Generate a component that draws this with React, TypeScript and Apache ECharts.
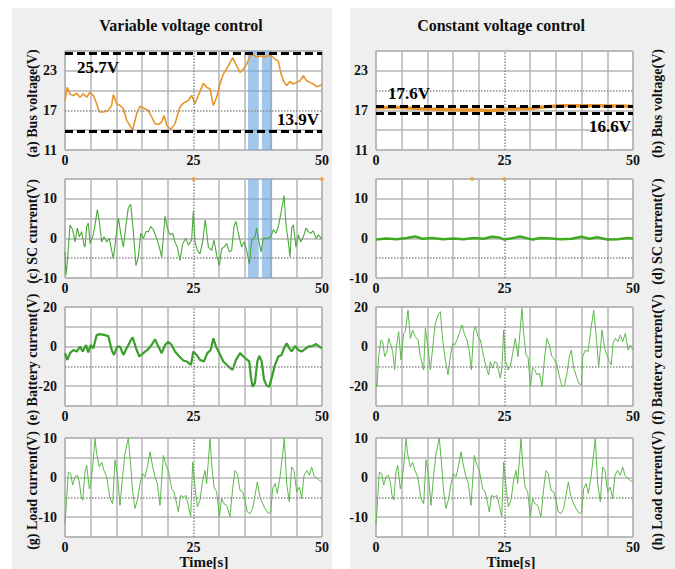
import React, { useEffect, useRef } from "react";
import * as echarts from "echarts";

const xLabelTicks = [0, 25, 50];
const busTicks = [11, 17, 23];
const scTicks = [-10, 0, 10];
const batTicks = [-20, 0, 20];
const loadTicks = [-10, 0, 10];

const busVariable: number[][] = [[0,18.5],[0.45,20.5],[0.97,19.5],[1.62,19.25],[2.27,19.6],[2.92,19],[3.57,19.5],[4.22,19],[4.86,19.75],[5.51,19.25],[6.16,18],[6.68,16.75],[7.46,16.75],[8.43,17],[9.08,17.75],[9.4,19.4],[10.05,18],[10.7,17.75],[11.35,17.25],[12.0,15.5],[13.16,14],[13.94,16.5],[14.59,17.6],[15.56,17.25],[16.21,17],[16.86,16],[17.51,15],[18.16,14.85],[18.81,15.25],[19.26,16.25],[19.78,14.75],[20.56,14.1],[21.4,15],[22.37,17.5],[23.02,18.1],[23.99,18.5],[24.64,19.25],[25.29,18],[25.94,19.25],[26.91,21.1],[27.56,20.5],[28.21,20.25],[28.86,17.75],[29.51,19],[30.16,21],[30.8,22.5],[31.78,23.75],[32.62,25],[33.4,23.75],[34.05,22.75],[34.7,23.25],[35.34,24],[35.99,25.25],[36.64,25.4],[37.29,25.1],[37.94,25.25],[38.91,25.1],[39.56,25.35],[40.21,25.25],[40.86,24.75],[41.5,24.5],[41.96,22.75],[42.48,21.5],[43.13,20.75],[43.77,21.4],[44.42,21],[45.07,21.25],[45.72,21.5],[46.37,22.25],[47.02,21.5],[47.67,21.25],[48.31,21],[48.96,20.6],[50,20.9]];

const busConstant: number[][] = [[0,17.4],[3,17.45],[5,17.45],[8,17.3],[10,17.2],[13,17.15],[15,17.1],[18,17.05],[20,17.05],[22,16.95],[25,17.15],[28,17.25],[30,17.3],[33,17.55],[36,17.7],[40,17.7],[43,17.7],[45,17.65],[48,17.65],[50,17.6]];

const scVariable: number[][] = [[0,-3.4],[0.19,-9.3],[0.45,-6],[0.97,3.4],[1.49,2.2],[1.95,-0.9],[2.4,2.6],[2.79,0.4],[3.24,1.7],[3.7,-1.7],[3.89,-2.2],[4.22,3],[4.54,3.9],[4.86,-1.3],[5.51,0.9],[5.84,3.4],[6.29,7.3],[6.68,4.3],[7.13,-0.9],[7.59,0.4],[8.11,-0.9],[8.63,0],[9.08,-3],[9.4,-5.2],[9.92,0.4],[10.38,5.2],[10.83,1.3],[11.35,-2.2],[11.87,3.4],[12.32,7.8],[12.78,8.6],[13.29,1.7],[13.81,-6.9],[14.27,-4.7],[14.72,1.3],[15.24,0],[15.76,1.7],[16.21,1.7],[16.67,3],[17.19,2.2],[17.83,0],[18.35,-2.2],[18.81,-4.7],[19.46,5.6],[19.91,2.6],[20.43,0.9],[20.95,1.3],[21.4,-0.9],[21.85,-2.2],[22.37,-5.6],[22.89,-1.3],[23.54,0],[23.99,-1.7],[24.64,-0.4],[24.97,6.9],[25.29,-0.9],[25.75,-3],[26.26,-3.9],[26.78,-0.9],[27.3,4.7],[27.89,-2.2],[28.53,-3],[28.99,-0.4],[29.51,-4.3],[30.03,-6.9],[30.48,-2.6],[30.93,-2.2],[31.45,-1.3],[31.97,-3.4],[32.43,-3],[32.88,3],[33.27,4.3],[33.72,1.3],[34.37,-2.2],[34.82,-0.9],[35.34,-3],[35.86,-6.5],[36.32,-0.4],[36.96,0.4],[37.29,2.6],[37.61,0],[38.13,-3.4],[38.59,0],[39.23,0],[40.01,0.2],[40.53,2.2],[41.05,1.3],[41.5,3],[41.96,6],[42.61,10.8],[43.0,3.4],[43.45,-0.9],[43.77,-4.7],[44.1,2.6],[44.42,3.4],[44.94,-2.2],[45.4,0.9],[45.85,-0.9],[46.37,0.4],[46.89,2.6],[47.34,1.7],[47.8,1.3],[48.31,1.9],[48.83,0],[49.29,0.9],[50,-0.2]];

const scConstant: number[][] = [[0,-0.3],[2,0],[4,-0.2],[6,0.1],[7.6,0.5],[9,-0.1],[11,0.1],[13,-0.2],[15,0],[17,-0.2],[19,0.1],[21,-0.1],[22.5,0.4],[24,0.2],[25,-0.3],[27,0.2],[28,0.5],[29.5,0],[30.5,-0.3],[32,0.1],[34,0],[36,-0.2],[38,-0.1],[40,0.4],[41.5,-0.1],[43,0.3],[45,-0.3],[47,-0.2],[49,0.1],[50,0]];

const batVariable: number[][] = [[0,-3.3],[0.45,-6.7],[0.97,-3.3],[1.62,-1.7],[2.27,-2.5],[2.92,0],[3.44,-2.5],[4.09,0.8],[4.54,-3],[4.99,0.8],[5.51,-0.8],[6.16,5.8],[6.81,6.3],[7.78,5.8],[8.43,5.3],[9.08,-1.7],[9.53,-4.2],[10.18,0],[10.7,0],[11.35,-4.2],[12.0,-0.8],[12.65,2.5],[13.16,4.7],[13.81,-0.8],[14.46,-5],[15.24,-3.3],[16.02,-1.7],[16.86,0.8],[17.51,3.7],[18.16,0],[18.81,-3.3],[19.46,0.8],[20.1,2.5],[20.75,0.8],[21.4,-2.5],[22.24,-5],[23.02,-7],[23.67,-7.5],[24.51,-9.2],[24.97,-2.5],[25.62,-4.2],[26.26,-6.7],[27.04,-7.5],[27.69,-3.3],[28.34,-1.7],[28.86,4.2],[29.38,0],[30.03,-3.3],[30.8,-7.5],[31.45,-9.2],[32.1,-10.8],[32.62,-11.7],[33.27,-6.7],[34.05,-3.3],[34.7,-5],[35.47,-6.7],[35.86,-7.5],[36.19,-15.8],[36.51,-20.3],[36.96,-18.3],[37.42,-7.5],[37.81,-4.7],[38.26,-7.5],[38.72,-16.7],[39.23,-19.7],[39.75,-20.3],[40.21,-15.8],[40.86,-9.2],[41.5,-5],[42.15,-4.2],[42.61,-0.8],[43.13,1.7],[43.64,-0.8],[44.1,-2.5],[44.75,0.3],[45.4,-1.7],[46.04,-2.5],[46.69,-1.3],[47.34,0],[48.18,0.3],[48.83,1.3],[49.48,0],[50,-0.8]];

const batConstant: number[][] = [[0,-18.5],[0.19,-20.2],[0.52,-5],[0.97,3.4],[1.3,2.5],[1.69,-5],[2.14,-2.5],[2.46,4.2],[2.79,1.7],[3.24,-2.5],[3.63,-11.8],[3.96,0],[4.41,7.6],[4.86,-6.7],[5.38,6.7],[5.71,7.6],[6.23,18.5],[6.68,4.2],[7.13,8.4],[7.65,5],[8.17,3.4],[8.63,-5],[9.27,-11.8],[9.6,9.2],[10.12,-0.8],[10.57,-11.8],[11.02,-0.8],[11.54,11.8],[12.19,16.8],[12.52,17.6],[12.97,3.4],[13.49,-6.7],[14.01,-14.3],[14.46,-5],[14.92,1.7],[15.3,0.8],[15.76,3.4],[16.21,6.7],[16.73,10.9],[17.25,5.9],[17.7,3.4],[18.16,-2.5],[18.55,-11.8],[19.0,7.6],[19.33,10.1],[19.84,5],[20.3,3.4],[20.95,-5],[21.4,-10.1],[21.92,-14.3],[22.24,-7.6],[22.7,-10.9],[23.09,-7.6],[23.54,-8.4],[24.19,-16],[24.51,-10.1],[24.84,8.4],[25.16,-6.7],[25.68,-11.8],[26.13,-10.1],[26.59,-3.4],[27.11,4.2],[27.63,-5],[27.89,3.4],[28.4,19.3],[28.73,6.7],[29.18,-4.2],[29.57,-5],[30.03,-20.2],[30.48,-10.9],[30.87,-11.8],[31.32,-14.3],[31.78,-13.4],[32.3,-20.2],[32.81,-5],[33.27,4.2],[33.72,0.8],[34.24,-5],[34.76,-6.7],[35.21,-9.2],[35.67,-15.1],[36.19,-20.2],[36.71,-19.3],[37.16,-13.4],[37.61,-5],[38.0,-1.7],[38.46,-10.9],[38.91,-14.3],[39.43,-18.5],[39.95,-19.3],[40.21,-5],[40.73,-1.7],[41.25,-2.5],[41.7,6.7],[42.35,18.5],[42.8,6.7],[43.32,-10.1],[43.64,-1.7],[43.97,8.4],[44.49,-0.8],[44.94,-4.2],[45.4,-7.6],[45.78,-9.2],[46.11,1.7],[46.56,4.2],[47.08,2.5],[47.54,5.9],[47.99,2.5],[48.51,6.7],[49.03,-1.7],[49.48,0.8],[50,-1.7]];

const loadCurrent: number[][] = [[0,-11.6],[0.19,-8.2],[0.65,1.4],[1.1,1],[1.49,-1.9],[1.95,0.2],[2.4,0.6],[2.79,-1.1],[3.11,-4.5],[3.44,-5.7],[3.89,1.4],[4.22,3.1],[4.73,-2.8],[4.99,-1.5],[5.38,2.7],[5.84,9.8],[6.16,6],[6.68,2.7],[7.13,3.9],[7.59,1.8],[8.11,0.2],[8.75,-5.3],[9.27,-6.6],[9.73,4.4],[10.18,1],[10.7,-7],[11.22,0.6],[11.67,6],[12.32,10],[12.78,3.1],[13.16,-3.6],[13.62,-7.8],[14.14,-5.3],[14.59,-1.5],[15.11,1],[15.56,0.2],[16.02,2.7],[16.54,6.5],[17.06,2.7],[17.51,0.2],[17.96,-1.5],[18.48,-7],[19.13,5.6],[19.65,3.1],[20.1,1.8],[20.75,-2.8],[21.21,-3.6],[21.73,-6.6],[22.05,-8.7],[22.5,-4.5],[23.02,-4.9],[23.54,-4.5],[23.99,-7],[24.45,-9.9],[24.84,3.9],[25.29,-2.4],[25.75,-7.4],[26.26,-5.7],[26.78,-0.7],[27.24,1.8],[27.56,-1.5],[28.21,9.8],[28.53,3.5],[28.99,-2.4],[29.51,-3.6],[30.03,-9.9],[30.48,-5.3],[30.93,-6.6],[31.45,-7],[32.1,-9.9],[32.62,-2.8],[33.07,1.8],[33.53,1],[34.05,-3.2],[34.57,-3.6],[35.02,-5.7],[35.47,-8.7],[35.99,-9.1],[36.51,-7.8],[36.96,-4.5],[37.42,-1.1],[37.94,-4.9],[38.46,-6.6],[38.91,-7.8],[39.56,-9.1],[40.01,-8.7],[40.4,-2.8],[40.86,-1.5],[41.31,-4],[41.83,0.2],[42.35,6],[42.67,10],[43.13,-1.5],[43.64,-6.1],[44.1,2.7],[44.55,1.8],[45.07,-3.6],[45.59,-2.4],[46.04,-5.3],[46.5,0.6],[47.02,1.8],[47.54,0.6],[47.99,2.7],[48.44,0.6],[48.96,-0.2],[49.48,-0.7],[50,-1.1]];

const bandRanges: number[][] = [[35.6, 37.7], [38.3, 40.3]];
const scMarkersVariable: number[][] = [[25, 15], [50, 15]];
const scMarkersConstant: number[][] = [[18.7, 15], [25, 15]];

const FONT = "'Liberation Serif', 'Times New Roman', serif";
const ORANGE = "#e8952c";

export default function App() {
  const ref = useRef<HTMLDivElement>(null);
  useEffect(() => {
    if (!ref.current) return;
    const chart = echarts.init(ref.current, null, { renderer: "svg" });

    const rows = [
      { top: 51, height: 99, min: 11, max: 26, interval: 3, ticks: busTicks, dotted: 17, dottedR: 20 },
      { top: 179, height: 99, min: -10, max: 15, interval: 5, ticks: scTicks, dotted: -5, dottedR: -5 },
      { top: 307, height: 99, min: -30, max: 20, interval: 10, ticks: batTicks, dotted: -10, dottedR: -10 },
      { top: 438, height: 99, min: -15, max: 10, interval: 5, ticks: loadTicks, dotted: -5, dottedR: -5 },
    ];
    const cols = [{ left: 65 }, { left: 376 }];
    const W = 257;

    const grids: any[] = [];
    const xAxes: any[] = [];
    const yAxes: any[] = [];
    const gridColor = "#b4b4b4";
    rows.forEach((r) => {
      cols.forEach((c, ci) => {
        const idx = grids.length;
        grids.push({
          left: c.left, top: r.top, width: W, height: r.height,
          show: true, backgroundColor: "#ffffff", borderColor: "#a0a0a0", borderWidth: 1,
        });
        const xColors: string[] = [];
        for (let v = 0; v <= 50; v += 5) xColors.push(v === 25 ? "rgba(0,0,0,0)" : gridColor);
        xAxes.push({
          type: "value", gridIndex: idx, min: 0, max: 50, interval: 5,
          axisLine: { show: false }, axisTick: { show: false },
          splitLine: { show: true, lineStyle: { color: xColors, width: 1.5 } },
          axisLabel: {
            margin: 3, fontFamily: FONT, fontWeight: "bold", fontSize: 14, color: "#111",
            formatter: (v: number) => (xLabelTicks.includes(v) ? String(v) : ""),
          },
        });
        const dv = ci === 0 ? r.dotted : r.dottedR;
        const yColors: string[] = [];
        for (let v = r.min; v <= r.max; v += r.interval) yColors.push(v === dv ? "rgba(0,0,0,0)" : gridColor);
        yAxes.push({
          type: "value", gridIndex: idx, min: r.min, max: r.max, interval: r.interval,
          axisLine: { show: false }, axisTick: { show: false },
          splitLine: { show: true, lineStyle: { color: yColors, width: 1.5 } },
          axisLabel: {
            margin: 8, fontFamily: FONT, fontWeight: "bold", fontSize: 14, color: "#111",
            formatter: (v: number) => (r.ticks.includes(v) ? String(v) : ""),
          },
        });
      });
    });

    const dottedStyle = { type: "dotted", color: "#8c8c8c", width: 1.5 };
    const dottedLines = (yv: number) => [
      { xAxis: 25, lineStyle: dottedStyle, label: { show: false } },
      { yAxis: yv, lineStyle: dottedStyle, label: { show: false } },
    ];
    const levelLabel = (text: string, position: string, distance: number[]) => ({
      show: true, formatter: text, position, fontFamily: FONT, fontWeight: "bold",
      fontSize: 17, color: "#000", distance,
    });
    const levelStyle = { type: [8, 4], color: "#000", width: 3 };
    const bands = {
      silent: true,
      itemStyle: { color: "rgba(105,165,222,0.62)" },
      data: bandRanges.map((b) => [{ xAxis: b[0] }, { xAxis: b[1] }]),
    };

    const mkLine = (idx: number, data: number[][], color: string, width: number, markLineData: any[], extra: any = {}) => ({
      type: "line", xAxisIndex: idx, yAxisIndex: idx, data, showSymbol: false, symbol: "none",
      lineStyle: { color, width }, z: 3,
      markLine: { silent: true, symbol: "none", data: markLineData },
      ...extra,
    });

    const series: any[] = [
      mkLine(0, busVariable, ORANGE, 1.6, [
        ...dottedLines(17),
        { yAxis: 25.7, lineStyle: levelStyle, label: levelLabel("25.7V", "insideStartBottom", [12, 6]) },
        { yAxis: 13.9, lineStyle: levelStyle, label: levelLabel("13.9V", "insideEndTop", [3, 3]) },
      ], { markArea: bands }),
      mkLine(1, busConstant, ORANGE, 3.5, [
        ...dottedLines(20),
        { yAxis: 17.6, lineStyle: levelStyle, label: levelLabel("17.6V", "insideStartTop", [12, 4]) },
        { yAxis: 16.6, lineStyle: levelStyle, label: levelLabel("16.6V", "insideEndBottom", [2, 5]) },
      ]),
      mkLine(2, scVariable, "#4aa93a", 1.1, dottedLines(-5), { markArea: bands }),
      mkLine(3, scConstant, "#3daa1f", 2.5, dottedLines(-5)),
      mkLine(4, batVariable, "#3a9e2a", 2.2, dottedLines(-10)),
      mkLine(5, batConstant, "#5cb84a", 1, dottedLines(-10)),
      mkLine(6, loadCurrent, "#5cb84a", 1, dottedLines(-5)),
      mkLine(7, loadCurrent, "#5cb84a", 1, dottedLines(-5)),
      { type: "scatter", xAxisIndex: 2, yAxisIndex: 2, data: scMarkersVariable, symbolSize: 4, itemStyle: { color: "#f0a030" }, z: 4 },
      { type: "scatter", xAxisIndex: 3, yAxisIndex: 3, data: scMarkersConstant, symbolSize: 4, itemStyle: { color: "#f0a030" }, z: 4 },
    ];

    const leftNames = ["(a) Bus voltage(V)", "(c) SC current(V)", "(e) Battery current(V)", "(g) Load current(V)"];
    const rightNames = ["(b) Bus voltage(V)", "(d) SC current(V)", "(f) Battery current(V)", "(h) Load current(V)"];
    const textStyle = (text: string, size: number) => ({
      text, fontFamily: FONT, fontWeight: "bold", fontSize: size, fill: "#111",
      textAlign: "center", textVerticalAlign: "middle",
    });

    const graphic: any[] = [
      { type: "rect", z: -10, shape: { x: 12, y: 8, width: 320, height: 561 }, style: { fill: "#efefef" } },
      { type: "rect", z: -10, shape: { x: 350, y: 8, width: 325, height: 561 }, style: { fill: "#efefef" } },
      { type: "text", x: 181, y: 25, style: textStyle("Variable voltage control", 16) },
      { type: "text", x: 501, y: 25, style: textStyle("Constant voltage control", 16) },
      { type: "text", x: 204, y: 562, style: textStyle("Time[s]", 15) },
      { type: "text", x: 511, y: 562, style: textStyle("Time[s]", 15) },
    ];
    rows.forEach((r, i) => {
      const cy = r.top + r.height / 2 + 3;
      graphic.push({ type: "text", x: 32, y: cy, rotation: Math.PI / 2, style: textStyle(leftNames[i], 14) });
      graphic.push({ type: "text", x: 657, y: cy, rotation: Math.PI / 2, style: textStyle(rightNames[i], 14) });
    });

    chart.setOption({
      animation: false,
      backgroundColor: "#ffffff",
      grid: grids,
      xAxis: xAxes,
      yAxis: yAxes,
      series,
      graphic,
    });
    return () => chart.dispose();
  }, []);
  return <div ref={ref} style={{ position: "absolute", left: 0, top: 0, width: 675, height: 569 }} />;
}
